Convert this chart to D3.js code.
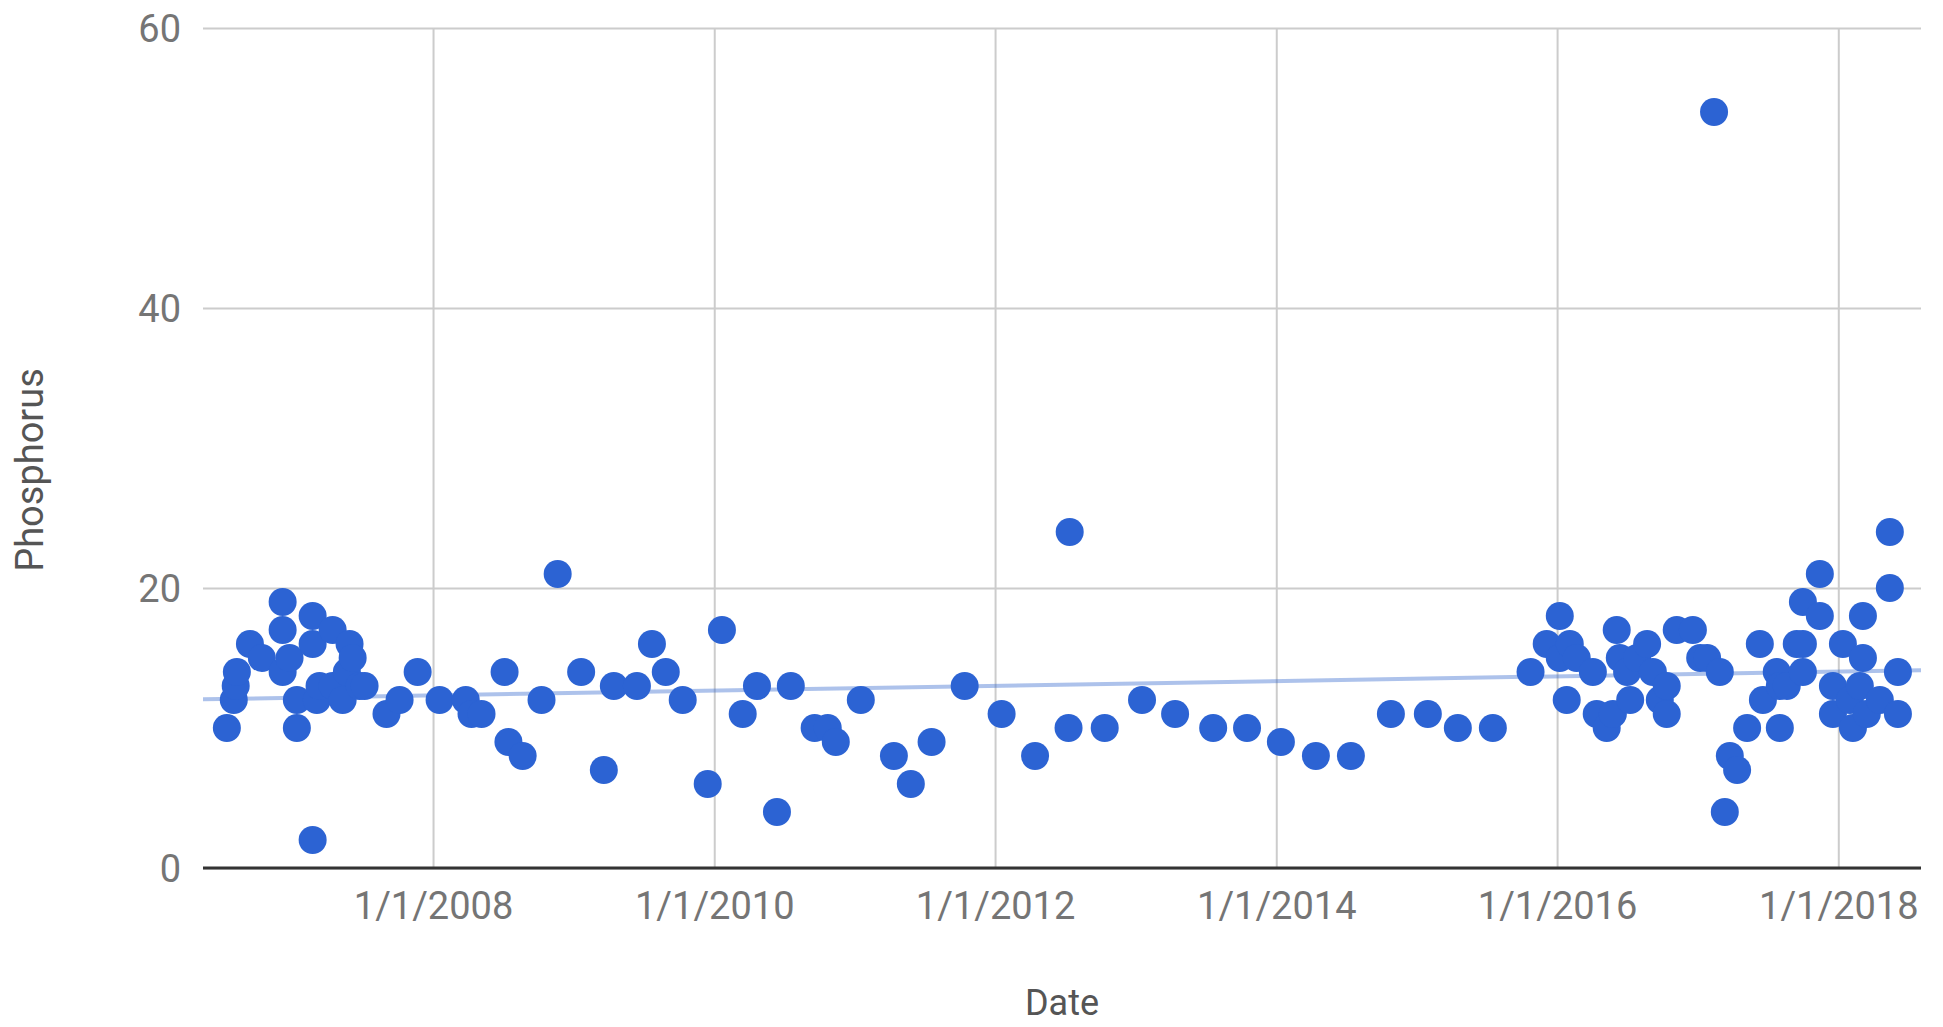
<!DOCTYPE html>
<html>
<head>
<meta charset="utf-8">
<script src="https://cdn.jsdelivr.net/npm/d3@7"></script>
<style>
  html, body { margin: 0; padding: 0; background: #fff; }
  svg { display: block; }
  text { font-family: Roboto, "Noto Sans", Arial, sans-serif; }
</style>
</head>
<body>
<svg id="chart" width="1943" height="1027"></svg>
<script>
// ---- data ----
const dates = [
  "2006-07-14","2006-08-01","2006-08-06","2006-08-09","2006-09-12","2006-10-13",
  "2006-12-06","2006-12-06","2006-12-06","2006-12-24","2007-01-12","2007-01-12",
  "2007-02-22","2007-02-22","2007-02-22","2007-03-05","2007-03-12","2007-04-15",
  "2007-04-15","2007-05-11","2007-05-22","2007-05-29","2007-06-06","2007-06-24",
  "2007-07-07","2007-09-02","2007-10-06","2007-11-22","2008-01-18",
  "2008-03-26","2008-04-10","2008-05-06","2008-07-05","2008-07-15","2008-08-21",
  "2008-10-09","2008-11-20","2009-01-20","2009-03-20","2009-04-15","2009-06-14",
  "2009-07-23","2009-08-28","2009-10-11","2009-12-15","2010-01-21","2010-03-16",
  "2010-04-22","2010-06-13","2010-07-19","2010-09-19","2010-10-23","2010-11-13",
  "2011-01-17","2011-04-13","2011-05-27","2011-07-20","2011-10-14","2012-01-18",
  "2012-04-14","2012-07-10","2012-07-13","2012-10-12","2013-01-17","2013-04-13",
  "2013-07-21","2013-10-17","2014-01-13","2014-04-14","2014-07-14","2014-10-26",
  "2015-01-30","2015-04-18","2015-07-18","2015-10-24","2015-12-05",
  "2016-01-08","2016-01-08","2016-01-26","2016-02-03","2016-02-21","2016-04-03",
  "2016-04-13","2016-05-09","2016-05-25","2016-06-04","2016-06-12","2016-07-01",
  "2016-07-09","2016-07-27","2016-08-22","2016-09-06","2016-09-24","2016-10-12",
  "2016-10-12","2016-11-07","2016-12-19","2017-01-07","2017-01-25","2017-02-12",
  "2017-02-27","2017-03-12","2017-03-25","2017-04-13","2017-05-09","2017-06-11",
  "2017-06-19","2017-07-25","2017-08-02","2017-08-02","2017-08-20","2017-09-15",
  "2017-10-01","2017-10-01","2017-10-01","2017-11-14","2017-11-14","2017-12-18",
  "2017-12-18","2018-01-13","2018-01-31","2018-02-08","2018-02-26","2018-03-06",
  "2018-03-06","2018-03-16","2018-04-19","2018-05-15","2018-05-15","2018-06-05",
  "2018-06-05"
];
const phosphorus = [
  10,12,13,14,16,15,
  19,17,14,15,12,10,
  18,16,2,12,13,17,
  13,12,14,16,15,13,
  13,11,12,14,12,
  12,11,11,14,9,8,
  12,21,14,7,13,13,
  16,14,12,6,17,11,
  13,4,13,10,10,9,
  12,8,6,9,13,11,
  8,10,24,10,12,11,
  10,10,9,8,8,11,
  11,10,10,14,16,
  18,15,12,16,15,14,
  11,10,11,17,15,14,
  12,15,16,14,12,11,
  13,17,17,15,15,54,
  14,4,8,7,10,16,
  12,14,13,10,13,16,
  16,14,19,18,21,13,
  11,16,12,10,13,18,
  15,11,12,24,20,14,
  11
];
const yTicks = [0, 20, 40, 60];
const xTickDates = ["2008-01-01","2010-01-01","2012-01-01","2014-01-01","2016-01-01","2018-01-01"];
const xTickLabels = ["1/1/2008","1/1/2010","1/1/2012","1/1/2014","1/1/2016","1/1/2018"];
const xDomain = ["2006-05-13", "2018-08-04"];
const yDomain = [0, 60];
const xTitle = "Date";
const yTitle = "Phosphorus";

// ---- drawing ----
const parse = d3.utcParse("%Y-%m-%d");
const points = dates.map((d, i) => ({ date: parse(d), value: phosphorus[i] }));

const plot = { left: 203, right: 1921, top: 28, bottom: 868 };

const svg = d3.select("#chart");

const x = d3.scaleUtc().domain(xDomain.map(parse)).range([plot.left, plot.right]);
const y = d3.scaleLinear().domain(yDomain).range([plot.bottom, plot.top]);

// horizontal grid + y labels
const yAxis = d3.axisLeft(y).tickValues(yTicks).tickSize(-(plot.right - plot.left)).tickPadding(22).tickFormat(d3.format("d"));
const gy = svg.append("g").attr("transform", `translate(${plot.left},0)`).call(yAxis);
gy.select(".domain").remove();
gy.selectAll(".tick line").attr("stroke", "#cccccc").attr("stroke-width", 2);
gy.selectAll(".tick text").attr("fill", "#757575").style("font-size", "38px").attr("dy", "0.36em");

// vertical grid + x labels
const xAxis = d3.axisBottom(x).tickValues(xTickDates.map(parse)).tickSize(-(plot.bottom - plot.top))
  .tickPadding(24).tickFormat((d, i) => xTickLabels[i]);
const gx = svg.append("g").attr("transform", `translate(0,${plot.bottom})`).call(xAxis);
gx.select(".domain").remove();
gx.selectAll(".tick line").attr("stroke", "#cccccc").attr("stroke-width", 2);
gx.selectAll(".tick text").attr("fill", "#757575").style("font-size", "38px").attr("dy", "0.71em");

// baseline
svg.append("line")
  .attr("x1", plot.left).attr("x2", plot.right)
  .attr("y1", y(0)).attr("y2", y(0))
  .attr("stroke", "#333333").attr("stroke-width", 3);

// linear trend line (least squares on time)
const xs = points.map(p => +p.date), ys = points.map(p => p.value);
const mx = d3.mean(xs), my = d3.mean(ys);
const slope = d3.sum(xs.map((v, i) => (v - mx) * (ys[i] - my))) / d3.sum(xs.map(v => (v - mx) * (v - mx)));
const icpt = my - slope * mx;
const d0 = x.domain()[0], d1 = x.domain()[1];
svg.append("line")
  .attr("x1", x(d0)).attr("x2", x(d1))
  .attr("y1", y(icpt + slope * +d0)).attr("y2", y(icpt + slope * +d1))
  .attr("stroke", "#3366cc").attr("stroke-opacity", 0.4).attr("stroke-width", 4);

// dots
svg.append("g").selectAll("circle").data(points).join("circle")
  .attr("cx", d => x(d.date)).attr("cy", d => y(d.value)).attr("r", 14)
  .attr("fill", "#2c63d3");

// titles
svg.append("text").attr("x", (plot.left + plot.right) / 2).attr("y", 1015)
  .attr("text-anchor", "middle").attr("fill", "#555555").style("font-size", "36px").text(xTitle);
svg.append("text").attr("transform", "translate(43,470) rotate(-90)")
  .attr("text-anchor", "middle").attr("fill", "#555555").style("font-size", "38px").text(yTitle);
</script>
</body>
</html>
